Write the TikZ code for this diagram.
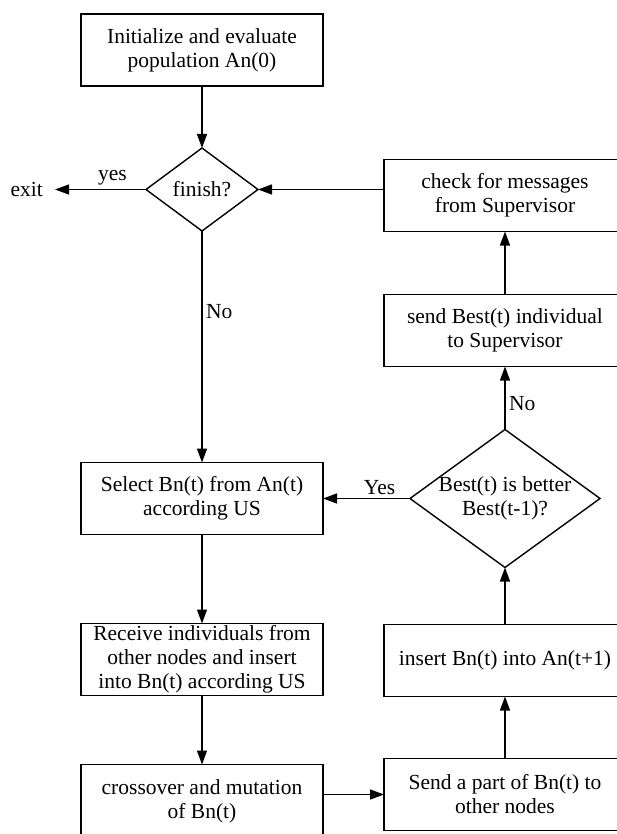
\documentclass[tikz,border=0pt]{standalone}
\usepackage{fontspec}
\setmainfont{Liberation Serif}
\usetikzlibrary{positioning,shapes.geometric,arrows.meta}
\begin{document}
\begin{tikzpicture}[x=1pt, y=1pt, font=\fontsize{21.5}{24}\selectfont,
    main/.style = {draw, line width=1.4pt, minimum width=242pt, minimum height=72pt, align=center, inner sep=0pt, outer sep=0pt},
    dec/.style = {draw, diamond, line width=1.4pt, inner sep=0pt, outer sep=0pt},
    arr/.style = {line width=1.4pt, -{Triangle[length=14pt, width=10pt]}}]
    \useasboundingbox (0,0) rectangle (616,-834);
    \node[main] (1) at (202,-50) {Initialize and evaluate\\population An(0)};
    \node[dec, minimum width=112pt, minimum height=83pt] (2) [below=62pt of 1] {finish?};
    \node[inner sep=0pt, inner xsep=12pt] (3) [left=91pt of 2] {exit};
    \node[main] (4) [right=126pt of 2, yshift=-6pt] {check for messages\\from Supervisor};
    \node[main] (5) [below=63pt of 4] {send Best(t) individual\\to Supervisor};
    \node[dec, minimum width=190pt, minimum height=138pt, label={[align=center]center:Best(t) is better\\Best(t-1)?}] (6) [below=63pt of 5] {};
    \node[main] (7) [left=87pt of 6] {Select Bn(t) from An(t)\\according US};
    \node[main] (8) [below=89pt of 7] {Receive individuals from\\other nodes and insert\\into Bn(t) according US};
    \node[main, minimum height=74pt] (9) [below=69pt of 8] {crossover and mutation\\of Bn(t)};
    \node[main] (10) [below=57pt of 6] {insert Bn(t) into An(t+1)};
    \node[main] (11) [below=62pt of 10] {Send a part of Bn(t) to\\other nodes};
    \draw[arr] (1) -- (2);
    \draw[arr] (2) -- node [above, pos=0.37] {yes} (3);
    \draw[arr] (4.west |- 2.east) -- (2.east);
    \draw[arr] (2) -- node [right, pos=0.35] {No} (7);
    \draw[arr] (5) -- (4);
    \draw[arr] (6) -- node [right, pos=0.41] {No} (5);
    \draw[arr] (6) -- node [above, pos=0.35] {Yes} (7);
    \draw[arr] (7) -- (8);
    \draw[arr] (8) -- (9);
    \draw[arr] (9.east |- 11.west) -- (11.west);
    \draw[arr] (11) -- (10);
    \draw[arr] (10) -- (6);
\end{tikzpicture}
\end{document}
